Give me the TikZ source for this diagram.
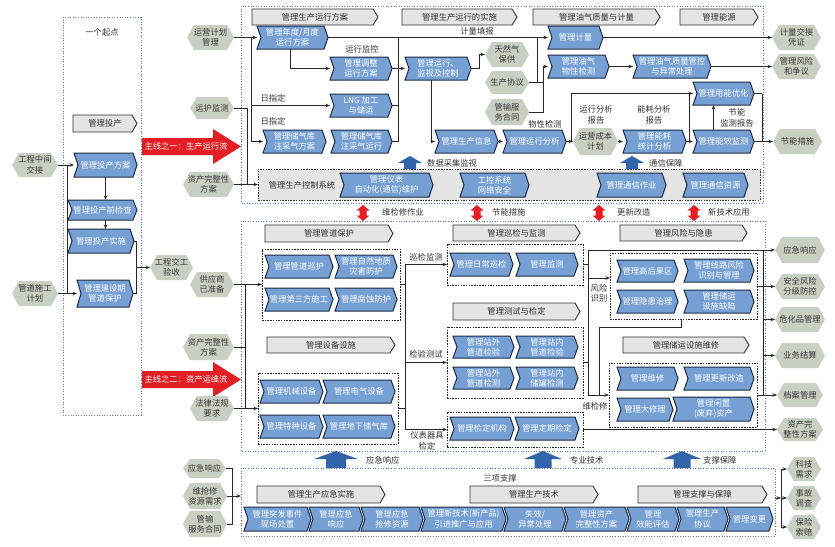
\documentclass[tikz,border=0pt]{standalone}
\usepackage{fontspec}
\setmainfont{Noto Sans CJK SC}
\usetikzlibrary{arrows.meta}
\definecolor{bfill}{RGB}{118,160,212}
\definecolor{bdraw}{RGB}{30,45,70}
\definecolor{hfill}{RGB}{200,208,195}
\definecolor{htext}{RGB}{55,55,55}
\definecolor{gfill}{RGB}{228,228,228}
\definecolor{gdraw}{RGB}{50,50,50}
\definecolor{framec}{RGB}{90,120,170}
\definecolor{redc}{RGB}{228,30,36}
\definecolor{upc}{RGB}{50,100,172}
\definecolor{linec}{RGB}{40,40,40}
\definecolor{txtc}{RGB}{50,50,50}
\tikzset{
 fnt/.style={font=\fontsize{8.3}{10.3}\selectfont},
 bluebox/.style={fill=bfill,draw=bdraw,line width=1pt,line join=miter},
 bluetext/.style={fnt,text=white,align=center,inner sep=0pt,outer sep=0pt},
 hexbox/.style={fill=hfill,draw=none},
 hextext/.style={fnt,text=htext,align=center,inner sep=0pt,outer sep=0pt},
 greybar/.style={fill=gfill,draw=gdraw,line width=0.9pt},
 greytext/.style={fnt,text=txtc,align=center,inner sep=0pt,outer sep=0pt},
 frame/.style={draw=framec,line width=0.8pt,dash pattern=on 1pt off 1.6pt},
 grp/.style={draw=black!85,line width=0.9pt,dash pattern=on 1.5pt off 1.2pt,inner sep=0pt,outer sep=0pt},
 ctrlbox/.style={fill=gfill,draw=gdraw,line width=0.9pt,dash pattern=on 1.5pt off 1.2pt,inner sep=0pt,outer sep=0pt},
 lbl/.style={fnt,text=txtc,align=center,inner sep=0pt},
 conn/.style={draw=linec,line width=0.8pt,-{Stealth[length=4.5pt,width=3.5pt]}},
 wire/.style={draw=linec,line width=0.8pt},
 redarrow/.style={fill=redc,draw=none},
 uparrow/.style={fill=upc,draw=none},
}
\newcommand\mkblue[6]{%
 \path[bluebox] (#2,#3) -- ({#4-4},#3) -- (#4,{(#3+#5)/2}) -- ({#4-4},#5) -- (#2,#5) -- ({#2+4},{(#3+#5)/2}) -- cycle;
 \node[bluetext,minimum width={(#4)-(#2)},minimum height={(#5)-(#3)}] (#1) at ({(#2+#4)/2},{(#3+#5)/2}) {#6};}
\newcommand\mkgrey[6]{%
 \path[greybar] (#2,#3) -- ({#4-5},#3) -- (#4,{(#3+#5)/2}) -- ({#4-5},#5) -- (#2,#5) -- cycle;
 \node[greytext,minimum width={(#4)-(#2)},minimum height={(#5)-(#3)}] (#1) at ({(#2+#4)/2},{(#3+#5)/2}) {#6};}
\newcommand\mkhex[6]{%
 \path[hexbox] (#2,{(#3+#5)/2}) -- ({#2+7},#3) -- ({#4-7},#3) -- (#4,{(#3+#5)/2}) -- ({#4-7},#5) -- ({#2+7},#5) -- cycle;
 \node[hextext,minimum width={(#4)-(#2)},minimum height={(#5)-(#3)}] (#1) at ({(#2+#4)/2},{(#3+#5)/2}) {#6};}
\newcommand\mkgrp[5]{\node[grp,minimum width={(#4)-(#2)},minimum height={(#5)-(#3)}] (#1) at ({(#2+#4)/2},{(#3+#5)/2}) {};}
\newcommand\uparr[6]{\fill[uparrow] ({#1-#5/2},#3) -- ({#1-#5/2},{#2+#6}) -- ({#1-#4/2},{#2+#6}) -- (#1,#2) -- ({#1+#4/2},{#2+#6}) -- ({#1+#5/2},{#2+#6}) -- ({#1+#5/2},#3) -- cycle;}
\newcommand\dblarr[1]{\fill[redarrow] (#1,205) -- ({#1+6.5},210.5) -- ({#1+3.5},210.5) -- ({#1+3.5},215.5) -- ({#1+6.5},215.5) -- (#1,221) -- ({#1-6.5},215.5) -- ({#1-3.5},215.5) -- ({#1-3.5},210.5) -- ({#1-6.5},210.5) -- cycle;}
\begin{document}
\begin{tikzpicture}[x=1pt,y=-1pt]
\useasboundingbox (0,0) rectangle (835,546);
\fill[white] (0,0) rectangle (835,546);
% ---------- frames
\draw[frame] (63,17) rectangle (141,415);
\draw[frame] (241,6) rectangle (763,203);
\draw[frame] (241,221) rectangle (765,451);
\draw[frame] (241,468) rectangle (775,536);
% ---------- left panel
\node[lbl] (qd) at (102,32) {一个起点};
\mkgrey{gtc}{73}{115}{137}{132}{管理投产}
\mkblue{tcfa}{74}{153}{137}{177}{管理投产方案}
\mkblue{tcqjc}{68}{200}{137}{220}{管理投产前检查}
\mkblue{tcss}{68}{229}{134}{253}{管理投产实施}
\mkblue{jsq}{77}{280}{133}{307}{管理建设期\\管道保护}
\mkhex{gczj}{12}{153}{58}{177}{工程中间\\交接}
\mkhex{sgjh}{12}{281}{58}{306}{管道施工\\计划}
\mkhex{jgys}{150}{255}{193}{280}{工程交工\\验收}
\draw[conn] (gczj.east) -- (tcfa.west);
\draw[wire] (67,165) -- (67,293.5);
\draw[conn] (sgjh.east) -- (jsq.west);
\draw[conn] (tcfa.south) -- (tcfa.south |- tcqjc.north);
\draw[conn] (tcfa.south |- tcqjc.south) -- (tcfa.south |- tcss.north);
\coordinate (bLa) at (136,241);
\draw[wire] (tcss.east) -- (bLa) -- (bLa |- jsq.east) -- (jsq.east);
\draw[conn] (bLa |- jgys.west) -- (jgys.west);
% red main arrows
\fill[redarrow] (142,138) -- (213,138) -- (213,129) -- (241,146.5) -- (213,164) -- (213,155) -- (142,155) -- cycle;
\node[fnt,text=white,inner sep=0pt] (m1) at (186,146.5) {主线之一：生产运行流};
\fill[redarrow] (142,371) -- (213,371) -- (213,362) -- (241,379.5) -- (213,397) -- (213,388) -- (142,388) -- cycle;
\node[fnt,text=white,inner sep=0pt] (m2) at (186,379.5) {主线之二：资产运维流};
% ---------- top panel
\mkgrey{g1}{252}{9}{378}{25}{管理生产运行方案}
\mkgrey{g2}{402}{9}{517}{25}{管理生产运行的实施}
\mkgrey{g3}{533}{9}{660}{25}{管理油气质量与计量}
\mkgrey{g4}{680}{9}{758}{25}{管理能源}
\mkhex{yyjh}{187}{25}{234}{50}{运营计划\\管理}
\mkhex{yhjc}{190}{97}{234}{119}{运护监测}
\mkhex{zcwz1}{183}{172}{234}{197}{资产完整性\\方案}
\mkhex{trq}{485}{42}{529}{67}{天然气\\保供}
\mkhex{scxy}{485}{71}{529}{94}{生产协议}
\mkhex{gsfw}{485}{99}{529}{125}{管输服\\务合同}
\mkhex{yycb}{573}{128}{618}{155}{运营成本\\计划}
\mkhex{jljj}{772}{25}{821}{50}{计量交接\\凭证}
\mkhex{glfx}{772}{54}{821}{79}{管理风险\\和争议}
\mkhex{jncs}{773}{129}{822}{154}{节能措施}
\mkblue{ndfa}{257}{26}{328}{49}{管理年度/月度\\运行方案}
\mkblue{tzfa}{330}{57}{392}{80}{管理调整\\运行方案}
\mkblue{lng}{330}{94}{392}{117}{LNG 加工\\与储运}
\mkblue{zcfa}{263}{130}{326}{153}{管理储气库\\注采气方案}
\mkblue{zcyx}{331}{130}{392}{153}{管理储气库\\注采气运行}
\mkblue{jskz}{405}{57}{471}{80}{管理运行、\\监视及控制}
\mkblue{scxx}{435}{130}{498}{153}{管理生产信息}
\mkblue{yxfx}{503}{130}{566}{153}{管理运行分析}
\mkblue{jl}{548}{26}{603}{49}{管理计量}
\mkblue{wxjc}{548}{55}{609}{78}{管理油气\\物性检测}
\mkblue{zlgk}{633}{55}{711}{78}{管理油气质量管控\\与异常处理}
\mkblue{nhtj}{623}{130}{686}{153}{管理能耗\\统计分析}
\mkblue{yyyh}{693}{82}{754}{105}{管理用能优化}
\mkblue{nxjc}{693}{130}{754}{153}{管理能效监测}
\node[ctrlbox,minimum width=502,minimum height=31] (ctrl) at (509,184.5) {};
\node[lbl] (ctrlt) at (302,185) {管理生产控制系统};
\mkblue{ybzd}{340}{173}{433}{197}{管理仪表\\自动化(通信)维护}
\mkblue{gkxt}{460}{173}{529}{197}{工控系统\\网络安全}
\mkblue{txzy}{597}{173}{666}{197}{管理通信作业}
\mkblue{txzy2}{683}{173}{748}{197}{管理通信资源}
\node[lbl] (lyxjk) at (362,49) {运行监控};
\node[lbl] (lrzd1) at (273,98) {日指定};
\node[lbl] (lrzd2) at (273,121) {日指定};
\node[lbl] (ljltb) at (477,31) {计量填报};
\node[lbl] (lwxjc) at (545,124) {物性检测};
\node[lbl] (lyxbg) at (596,115) {运行分析\\报告};
\node[lbl] (lnhbg) at (654,115) {能耗分析\\报告};
\node[lbl] (ljnbg) at (737,118) {节能\\监测报告};
\uparr{410}{156}{169}{24}{12}{7}
\node[lbl,anchor=west] (lsjcj) at (427,163) {数据采集监视};
\uparr{632}{156}{169}{24}{12}{7}
\node[lbl,anchor=west] (ltxbz) at (649,163) {通信保障};
% top connectors
\coordinate (busA) at (251,37.5);
\draw[conn] (yyjh.east) -- (ndfa.west);
\draw[conn] (busA) |- (zcfa.west);
\draw[conn] (busA |- lng.west) -- (lng.west);
\coordinate (busB) at (247,108);
\draw[wire] (yhjc.east) -- (busB);
\draw[conn] (busB) |- (ctrl.west);
\draw[wire] (zcwz1.east) -- (busB |- zcwz1.east);
\draw[conn] ([xshift=-2pt]ndfa.south) |- (tzfa.west);
\coordinate (busC) at (398,37.5);
\draw[conn] (ndfa.east) -- (jl.west);
\draw[wire] (busC) -- (busC |- zcyx.east) -- (zcyx.east);
\draw[wire] (lng.east) -- (busC |- lng.east);
\draw[conn] (tzfa.east) -- (jskz.west);
\draw[conn] (jskz.east) -- ++(8,0) |- (trq.west);
\draw[conn] ([xshift=-7pt]jskz.south) |- (scxx.west);
\coordinate (busD) at (537,37.5);
\draw[wire] (busD) -- (busD |- scxy.east);
\coordinate (busE) at (543,66.5);
\draw[wire] (scxy.east) -- (busE |- scxy.east);
\draw[conn] (gsfw.east) -| (busE) -- (wxjc.west);
\draw[conn] (scxx.east) -- (yxfx.west);
\draw[conn] (yxfx.east) -- (yycb.west);
\coordinate (busF) at (571,141.5);
\draw[conn] (busF) |- (yyyh.west);
\draw[conn] (yycb.east) -- (nhtj.west);
\draw[conn] (nhtj.east) -- (nxjc.west);
\coordinate (busG) at (689,93.5);
\draw[wire] (busG) -- (busG |- nhtj.east);
\draw[conn] ([xshift=-10pt]nxjc.north) -- ([xshift=-10pt]yyyh.south);
\coordinate (busH) at (762,93.5);
\draw[wire] (yyyh.east) -- (busH);
\draw[conn] (busH) |- (jncs.west);
\draw[wire] (nxjc.east) -- (busH |- nxjc.east);
\draw[conn] (jl.east) -- (jljj.west);
\draw[conn] (wxjc.east) -- (zlgk.west);
\draw[conn] (zlgk.east) -- (glfx.west);
% between panels
\dblarr{363}\node[lbl,anchor=west] (lwjx) at (382,212) {维检修作业};
\dblarr{477}\node[lbl,anchor=west] (ljncs) at (492,212) {节能措施};
\dblarr{599}\node[lbl,anchor=west] (lgxgz) at (617,212) {更新改造};
\dblarr{694}\node[lbl,anchor=west] (lxjs) at (708,212) {新技术应用};
% ---------- asset panel
\mkgrp{gp1}{262}{249}{400}{320}
\mkgrp{gp2}{258}{373}{398}{444}
\mkgrp{gpxj}{447}{244}{583}{285}
\mkgrp{gpcs}{447}{327}{583}{398}
\mkgrp{gpjd}{447}{412}{583}{447}
\mkgrp{gpfx}{610}{253}{757}{319}
\mkgrp{gpwx}{609}{363}{757}{427}
\mkgrey{gg1}{265}{225}{393}{242}{管理管道保护}
\mkblue{a1}{265}{255}{333}{278}{管理管道巡护}
\mkblue{a2}{335}{255}{397}{278}{管理自然地质\\灾害防护}
\mkblue{a3}{265}{288}{333}{311}{管理第三方施工}
\mkblue{a4}{335}{288}{397}{311}{管理腐蚀防护}
\mkhex{gys}{190}{272}{234}{297}{供应商\\已准备}
\mkhex{zcwz2}{183}{334}{234}{360}{资产完整性\\方案}
\mkhex{flfg}{190}{396}{234}{421}{法律法规\\要求}
\mkgrey{gg2}{267}{337}{395}{353}{管理设备设施}
\mkblue{e1}{260}{380}{323}{403}{管理机械设备}
\mkblue{e2}{323}{380}{395}{403}{管理电气设备}
\mkblue{e3}{260}{415}{323}{438}{管理特种设备}
\mkblue{e4}{323}{415}{395}{438}{管理地下储气库}
\mkgrey{gg3}{453}{225}{580}{241}{管理巡检与监测}
\mkblue{x1}{450}{253}{513}{276}{管理日常巡检}
\mkblue{x2}{516}{253}{578}{276}{管理监测}
\mkgrey{gg4}{453}{303}{580}{320}{管理测试与检定}
\mkblue{c1}{453}{336}{514}{358}{管理站外\\管道检验}
\mkblue{c2}{516}{336}{578}{358}{管理站内\\管道检验}
\mkblue{c3}{453}{367}{514}{389}{管理站外\\管道检测}
\mkblue{c4}{516}{367}{578}{389}{管理站内\\储罐检测}
\mkblue{d1}{450}{417}{514}{440}{管理检定机构}
\mkblue{d2}{515}{417}{579}{440}{管理定期检定}
\node[lbl] (lxjjc) at (426,257) {巡检监测};
\node[lbl] (ljycs) at (426,354) {检验测试};
\node[lbl] (lybqj) at (427,441) {仪表器具\\检定};
\mkgrey{gg5}{620}{225}{747}{241}{管理风险与隐患}
\mkblue{r1}{617}{260}{678}{282}{管理高后果区}
\mkblue{r2}{684}{259}{754}{282}{管理线路风险\\识别与管理}
\mkblue{r3}{617}{290}{678}{313}{管理隐患治理}
\mkblue{r4}{684}{290}{754}{313}{管理储运\\设施缺陷}
\node[lbl] (lfxsb) at (599,293) {风险\\识别};
\mkgrey{gg6}{623}{337}{749}{353}{管理储运设施维修}
\mkblue{w1}{617}{367}{678}{390}{管理维修}
\mkblue{w2}{684}{367}{754}{390}{管理更新改造}
\mkblue{w3}{617}{398}{673}{421}{管理大修理}
\mkblue{w4}{673}{397}{754}{421}{管理闲置\\(废弃)资产}
\node[lbl] (lwjx2) at (595,406) {维检修};
\mkhex{yjxy}{775}{237}{825}{263}{应急响应}
\mkhex{aqfx}{775}{274}{825}{299}{安全风险\\分级防控}
\mkhex{whp}{775}{307}{825}{332}{危化品管理}
\mkhex{ywjs}{775}{343}{825}{368}{业务结算}
\mkhex{dagl}{777}{383}{823}{407}{档案管理}
\mkhex{zcwz3}{777}{418}{823}{441}{资产完\\整性方案}
% asset connectors
\coordinate (busI) at (245,284.5);
\draw[conn] (gys.east) -- (gp1.west);
\draw[wire] (busI) -- (busI |- flfg.east);
\draw[wire] (zcwz2.east) -- (busI |- zcwz2.east);
\draw[conn] (flfg.east) -- (gp2.west);
\coordinate (busJ) at (405,264.5);
\draw[conn] (busJ) -- (gpxj.west);
\draw[wire] (busJ) -- (busJ |- gpjd.west);
\draw[conn] (busJ |- gpjd.west) -- (gpjd.west);
\draw[conn] (busJ |- gpcs.west) -- (gpcs.west);
\draw[wire] (gp1.east) -- (busJ |- gp1.east);
\draw[wire] (gp2.east) -- (busJ |- gp2.east);
\coordinate (busK) at (588,250);
\draw[wire] (gpxj.east) -- (busK |- gpxj.east);
\draw[wire] (gpcs.east) -- (busK |- gpcs.east);
\draw[conn] (busK) -- (yjxy.west);
\draw[conn] (busK) |- (gpwx.west);
\coordinate (fxin) at (588,278);
\draw[conn] (fxin) -- (fxin -| gpfx.west);
\coordinate (wxj) at (599,395);
\draw[wire] ([xshift=-2pt]gpfx.south) -- ++(0,8) -| (wxj);
\coordinate (busL) at (763,250);
\draw[wire] (busL) -- (busL |- dagl.west);
\draw[wire] (gpfx.east) -- (busL |- gpfx.east);
\draw[wire] (gpwx.east) -- (busL |- gpwx.east);
\draw[conn] (busL |- aqfx.west) -- (aqfx.west);
\draw[conn] (busL |- whp.west) -- (whp.west);
\draw[conn] (busL |- ywjs.west) -- (ywjs.west);
\draw[conn] (busL |- dagl.west) -- (dagl.west);
\draw[conn] (gpjd.east) -- (zcwz3.west);
% ---------- support
\uparr{336}{451}{468}{44}{20}{8}
\node[lbl,anchor=west] (lyjxy) at (366,460) {应急响应};
\uparr{543}{451}{468}{38}{17}{8}
\node[lbl,anchor=west] (lzyjs) at (570,460) {专业技术};
\uparr{682}{451}{468}{38}{17}{8}
\node[lbl,anchor=west] (lzcbz) at (703,460) {支撑保障};
\node[lbl] (sxzc) at (500,478) {三项支撑};
\mkgrey{gs1}{257}{486}{385}{503}{管理生产应急实施}
\mkgrey{gs2}{470}{486}{598}{503}{管理生产技术}
\mkgrey{gs3}{638}{486}{767}{503}{管理支撑与保障}
\mkblue{s1}{244}{507}{311}{531}{管理突发事件\\现场处置}
\mkblue{s2}{309}{507}{363}{531}{管理应急\\响应}
\mkblue{s3}{361}{507}{423}{531}{管理应急\\抢修资源}
\mkblue{s4}{421}{507}{506}{531}{管理新技术(新产品)\\引进推广与应用}
\mkblue{s5}{504}{507}{566}{531}{失效/\\异常处理}
\mkblue{s6}{564}{507}{629}{531}{管理资产\\完整性方案}
\mkblue{s7}{627}{507}{679}{531}{管理\\效能评估}
\mkblue{s8}{677}{507}{728}{531}{管理生产\\协议}
\mkblue{s9}{726}{507}{773}{531}{管理变更}
\mkhex{yj2}{183}{459}{226}{478}{应急响应}
\mkhex{qx}{183}{483}{227}{509}{维抢修\\资源需求}
\mkhex{gsh}{183}{511}{227}{537}{管输\\服务合同}
\mkhex{kj}{787}{457}{821}{481}{科技\\需求}
\mkhex{sg}{787}{486}{821}{510}{事故\\调查}
\mkhex{bx}{787}{515}{821}{539}{保险\\索赔}
\coordinate (busM) at (232,468.5);
\coordinate (spL) at (241,496);
\draw[wire] (yj2.east) -- (busM) -- (busM |- gsh.east) -- (gsh.east);
\draw[wire] (qx.east) -- (busM |- qx.east);
\draw[conn] (busM |- spL) -- (spL);
\coordinate (spR) at (775,498);
\coordinate (busN) at (781,469);
\draw[conn] (spR) -- (busN |- spR);
\draw[wire] (busN) -- (busN |- bx.west);
\draw[conn] (busN) -- (kj.west);
\draw[conn] (busN |- sg.west) -- (sg.west);
\draw[conn] (busN |- bx.west) -- (bx.west);
\end{tikzpicture}
\end{document}
